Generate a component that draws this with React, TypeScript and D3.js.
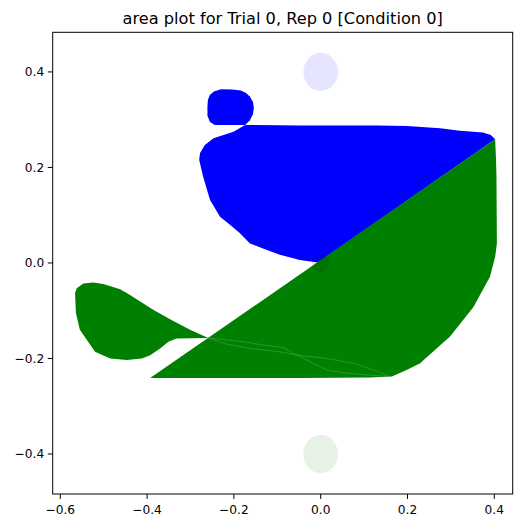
import React from "react";
import * as d3 from "d3";

// ---- data (in data coordinates) ----
const blueSmallBlob: [number, number][] = [
  [-0.26, 0.341], [-0.255, 0.352], [-0.246, 0.359], [-0.23, 0.364], [-0.204, 0.363],
  [-0.184, 0.361], [-0.172, 0.356], [-0.163, 0.348], [-0.156, 0.337], [-0.154, 0.325],
  [-0.156, 0.312], [-0.163, 0.299], [-0.174, 0.289], [-0.244, 0.289], [-0.255, 0.295],
  [-0.261, 0.308], [-0.261, 0.327],
];

const blueMainBlob: [number, number][] = [
  [-0.174, 0.289], [-0.048, 0.288], [0.13, 0.288], [0.199, 0.287], [0.275, 0.282],
  [0.321, 0.277], [0.374, 0.273], [0.392, 0.268], [0.402, 0.259], [-0.006, 0.001],
  [-0.048, 0.006], [-0.094, 0.017], [-0.124, 0.027], [-0.163, 0.041], [-0.186, 0.062],
  [-0.209, 0.08], [-0.232, 0.097], [-0.255, 0.132], [-0.271, 0.181], [-0.28, 0.216],
  [-0.278, 0.23], [-0.267, 0.247], [-0.247, 0.261], [-0.201, 0.275],
];

const greenMain: [number, number][] = [
  [-0.393, -0.241], [0.402, 0.259], [0.404, 0.216], [0.405, 0.181], [0.406, 0.041],
  [0.402, 0.013], [0.39, -0.029], [0.352, -0.092], [0.298, -0.154], [0.229, -0.21],
  [0.198, -0.224], [0.164, -0.238], [0.114, -0.24], [-0.048, -0.241], [-0.278, -0.241],
];

const greenLeftBlob: [number, number][] = [
  [-0.259, -0.157], [-0.301, -0.14], [-0.347, -0.118], [-0.386, -0.098], [-0.424, -0.076],
  [-0.443, -0.065], [-0.462, -0.055], [-0.501, -0.044], [-0.524, -0.041], [-0.547, -0.043],
  [-0.562, -0.053], [-0.566, -0.063], [-0.564, -0.105], [-0.555, -0.14], [-0.539, -0.161],
  [-0.52, -0.186], [-0.485, -0.2], [-0.447, -0.203], [-0.412, -0.2], [-0.393, -0.193],
  [-0.37, -0.179], [-0.351, -0.165], [-0.332, -0.158],
];

const seamUpper: [number, number][] = [
  [-0.259, -0.157], [-0.178, -0.165], [-0.132, -0.172], [-0.086, -0.177], [-0.063, -0.189],
  [-0.017, -0.21], [0.014, -0.224], [0.052, -0.23], [0.114, -0.235], [0.16, -0.238],
];

const seamLower: [number, number][] = [
  [-0.259, -0.157], [-0.217, -0.17], [-0.163, -0.179], [-0.094, -0.186], [-0.055, -0.193],
  [0.014, -0.2], [0.075, -0.21], [0.121, -0.224], [0.16, -0.238],
];

const circleCenters: [number, number][] = [[0, 0.4], [0, -0.4], [0, 0]];
const circleRadii = [0.04, 0.04, 0.02];
const circleColors = ["#0000ff", "#008000", "#000000"];
const circleOpacities = [0.1, 0.1, 0.1];

const xTicks = [-0.6, -0.4, -0.2, 0.0, 0.2, 0.4];
const yTicks = [-0.4, -0.2, 0.0, 0.2, 0.4];
const title = "area plot for Trial 0, Rep 0 [Condition 0]";

const W = 528;
const H = 528;
const left = 52.7;
const right = 512.7;
const top = 32.3;
const bottom = 494;

const fmt = (v: number) => {
  const s = Math.abs(v).toFixed(1);
  return v < -1e-9 ? "\u2212" + s : s;
};

export default function App() {
  const x = d3.scaleLinear().domain([-0.6175, 0.4424]).range([left, right]);
  const y = d3.scaleLinear().domain([-0.4838, 0.483]).range([bottom, top]);
  const poly = d3
    .line<[number, number]>()
    .x((d) => x(d[0]))
    .y((d) => y(d[1]))
    .curve(d3.curveLinearClosed);
  const open = d3
    .line<[number, number]>()
    .x((d) => x(d[0]))
    .y((d) => y(d[1]));

  const font = "'DejaVu Sans', sans-serif";

  return (
    <svg
      width={W}
      height={H}
      style={{ position: "absolute", left: 0, top: 0, background: "#fff" }}
    >
      <rect x={0} y={0} width={W} height={H} fill="#fff" />
      <defs>
        <clipPath id="axclip">
          <rect x={left} y={top} width={right - left} height={bottom - top} />
        </clipPath>
      </defs>
      <g clipPath="url(#axclip)">
        <path d={poly(blueSmallBlob) || ""} fill="#0000ff" />
        <path d={poly(blueMainBlob) || ""} fill="#0000ff" />
        <path d={poly(greenMain) || ""} fill="#008000" />
        <path d={poly(greenLeftBlob) || ""} fill="#008000" />
        <path d={open(seamUpper) || ""} fill="none" stroke="#55ab55" strokeWidth={0.5} />
        <path d={open(seamLower) || ""} fill="none" stroke="#55ab55" strokeWidth={0.5} />
        {circleCenters.map((c, i) => (
          <ellipse
            key={i}
            cx={x(c[0])}
            cy={y(c[1])}
            rx={x(circleRadii[i]) - x(0)}
            ry={y(0) - y(circleRadii[i])}
            fill={circleColors[i]}
            fillOpacity={circleOpacities[i]}
          />
        ))}
      </g>
      <rect
        x={left}
        y={top}
        width={right - left}
        height={bottom - top}
        fill="none"
        stroke="#000"
        strokeWidth={1}
      />
      {xTicks.map((t) => (
        <g key={"x" + t}>
          <line x1={x(t)} x2={x(t)} y1={bottom} y2={bottom + 4.9} stroke="#000" strokeWidth={1} />
          <text
            x={x(t)}
            y={514}
            textAnchor="middle"
            fontFamily={font}
            fontSize={12.2}
            fill="#000"
          >
            {fmt(t)}
          </text>
        </g>
      ))}
      {yTicks.map((t) => (
        <g key={"y" + t}>
          <line x1={left - 4.9} x2={left} y1={y(t)} y2={y(t)} stroke="#000" strokeWidth={1} />
          <text
            x={left - 8.5}
            y={y(t) + 4.4}
            textAnchor="end"
            fontFamily={font}
            fontSize={12.2}
            fill="#000"
          >
            {fmt(t)}
          </text>
        </g>
      ))}
      <text
        x={(left + right) / 2}
        y={24}
        textAnchor="middle"
        fontFamily={font}
        fontSize={16.2}
        fill="#000"
      >
        {title}
      </text>
    </svg>
  );
}
